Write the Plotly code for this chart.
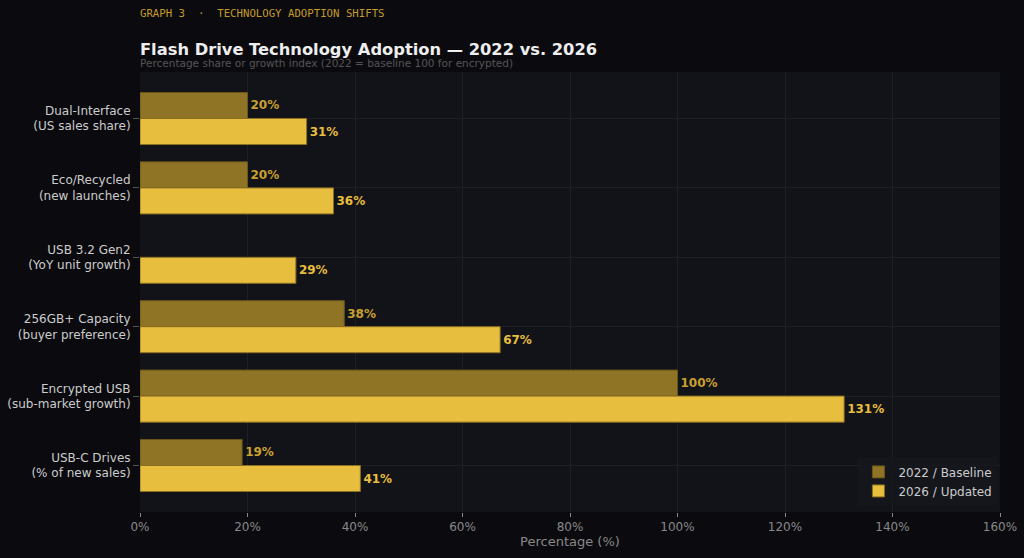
import plotly.graph_objects as go

categories = ["Dual-Interface<br>(US sales share)", "Eco/Recycled<br>(new launches)",
              "USB 3.2 Gen2<br>(YoY unit growth)", "256GB+ Capacity<br>(buyer preference)",
              "Encrypted USB<br>(sub-market growth)", "USB-C Drives<br>(% of new sales)"]
values_2022 = [20, 20, None, 38, 100, 19]
values_2026 = [31, 36, 29, 67, 131, 41]
x_ticks = [0, 20, 40, 60, 80, 100, 120, 140, 160]
x_tick_labels = [f"{v}%" for v in x_ticks]

fig = go.Figure()
fig.add_trace(go.Bar(
    y=categories, x=values_2022, orientation="h", name="2022 / Baseline",
    marker=dict(color="#8f7425", line=dict(color="#6a561c", width=1)),
    text=[f"{v}%" if v is not None else "" for v in values_2022],
    textposition="outside", cliponaxis=False,
    textfont=dict(color="#c9a030", size=12, family="DejaVu Sans", weight="bold"),
))
fig.add_trace(go.Bar(
    y=categories, x=values_2026, orientation="h", name="2026 / Updated",
    marker=dict(color="#e8be3e", line=dict(color="#8a6f22", width=1)),
    text=[f"{v}%" for v in values_2026],
    textposition="outside", cliponaxis=False,
    textfont=dict(color="#e8be3e", size=12, family="DejaVu Sans", weight="bold"),
))

fig.update_layout(
    width=1024, height=558,
    margin=dict(l=140, r=24, t=72, b=46),
    paper_bgcolor="#0b0b0f", plot_bgcolor="#121318",
    barmode="group", bargap=0.25, bargroupgap=0,
    font=dict(family="DejaVu Sans", color="#cccccc", size=12),
    title=dict(text="<b>Flash Drive Technology Adoption — 2022 vs. 2026</b>",
               x=140/1024, xanchor="left", y=1 - 49/558, yanchor="middle",
               font=dict(size=16.3, color="#eeeeee", family="DejaVu Sans")),
    legend=dict(x=0.997, y=0.015, xanchor="right", yanchor="bottom",
                bgcolor="rgba(22,23,29,0.9)", font=dict(size=12, color="#cccccc"),
                traceorder="normal", tracegroupgap=2),
    xaxis=dict(range=[0, 160], tickvals=x_ticks, ticktext=x_tick_labels,
               showgrid=True, gridcolor="#1e1f25", zeroline=False, automargin=False,
               ticks="outside", ticklen=4, tickcolor="#888888",
               tickfont=dict(color="#888888", size=12),
               title=dict(text="Percentage (%)", font=dict(color="#888888", size=13), standoff=3)),
    yaxis=dict(range=[5.67, -0.67], showgrid=True, gridcolor="#1e1f25", automargin=False,
               ticks="outside", ticklen=6, tickcolor="#555555",
               tickfont=dict(color="#cccccc", size=12)),
    annotations=[
        dict(text="GRAPH 3  ·  TECHNOLOGY ADOPTION SHIFTS", xref="paper", yref="paper",
             x=-2/860, y=1 + 58/440, xanchor="left", yanchor="middle", showarrow=False,
             font=dict(family="DejaVu Sans Mono", size=10.7, color="#c49a2a")),
        dict(text="Percentage share or growth index (2022 = baseline 100 for encrypted)",
             xref="paper", yref="paper", x=-2/860, y=1 + 9/440, xanchor="left", yanchor="middle",
             showarrow=False, font=dict(family="DejaVu Sans", size=10.5, color="#555555")),
    ],
)

fig.write_html("out.html")
